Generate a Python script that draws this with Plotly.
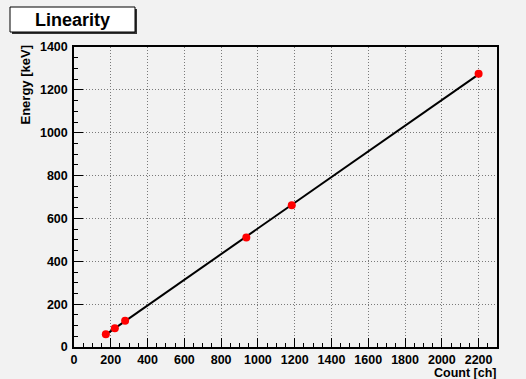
import numpy as np
import plotly.graph_objects as go

# Calibration peaks: channel position vs. known gamma energy
channels = [173, 222, 278, 937, 1184, 2200]
energies = [59.5, 88.0, 122.0, 511.0, 662.0, 1275.0]

x_ticks = list(range(0, 2201, 200))
y_ticks = list(range(0, 1401, 200))

# Linear calibration fit drawn across the measured channel range
slope, intercept = np.polyfit(channels, energies, 1)
fit_x = [min(channels), max(channels)]
fit_y = [intercept + slope * c for c in fit_x]

W, H = 526, 379
L, R, T, B = 74, 29, 47, 32
pw, ph = W - L - R, H - T - B


def px(xp):
    return (xp - L) / pw


def py(yp):
    return (H - B - yp) / ph


family = "Liberation Sans, Arial, sans-serif"
font = dict(family=family, size=12.5, color="black", weight="bold")

fig = go.Figure()
fig.add_trace(go.Scatter(x=fit_x, y=fit_y, mode="lines",
                         line=dict(color="black", width=2), showlegend=False, hoverinfo="skip"))
fig.add_trace(go.Scatter(x=channels, y=energies, mode="markers",
                         marker=dict(color="#ff0000", size=8, line=dict(width=0)), showlegend=False))

axis_common = dict(
    showline=True, linecolor="black", linewidth=1.5, mirror=True,
    ticks="inside", ticklen=9, tickwidth=1, tickcolor="black",
    showgrid=True, gridcolor="#7a7a7a", griddash="1px,2px", gridwidth=1,
    zeroline=False, tickfont=font,
    minor=dict(ticks="inside", ticklen=4, tickwidth=1, tickcolor="black", dtick=50, showgrid=False),
)

fig.update_xaxes(range=[0, 2300], tickvals=x_ticks, ticktext=[str(v) for v in x_ticks],
                 ticklabelstandoff=0, **axis_common)
fig.update_yaxes(range=[0, 1400], tickvals=y_ticks, ticktext=[str(v) for v in y_ticks],
                 ticklabelstandoff=2, **axis_common)

# Title box with drop shadow
bx0, bx1, by0, by1 = 10, 135, 7, 32
fig.add_shape(type="rect", xref="paper", yref="paper",
              x0=px(bx0 + 2), x1=px(bx1 + 2), y0=py(by1 + 2), y1=py(by0 + 2),
              fillcolor="#333333", line=dict(width=0), layer="above")
fig.add_shape(type="rect", xref="paper", yref="paper",
              x0=px(bx0), x1=px(bx1), y0=py(by1), y1=py(by0),
              fillcolor="white", line=dict(color="black", width=1), layer="above")

annotations = [
    dict(text="Linearity", x=px((bx0 + bx1) / 2), y=py((by0 + by1) / 2), xref="paper", yref="paper",
         xanchor="center", yanchor="middle", showarrow=False,
         font=dict(family=family, size=18, color="black", weight="bold")),
    dict(text="Energy [keV]", x=px(25), y=py(44), xref="paper", yref="paper",
         xanchor="center", yanchor="top", textangle=-90, showarrow=False,
         font=dict(family=family, size=13, color="black", weight="bold")),
    dict(text="Count [ch]", x=px(498), y=py(382), xref="paper", yref="paper",
         xanchor="right", yanchor="bottom", showarrow=False,
         font=dict(family=family, size=12.5, color="black", weight="bold")),
]

fig.update_layout(
    width=W, height=H,
    margin=dict(l=L, r=R, t=T, b=B),
    paper_bgcolor="#f2f2f2", plot_bgcolor="#f2f2f2",
    annotations=annotations,
    font=font,
)

fig.write_html("out.html")
